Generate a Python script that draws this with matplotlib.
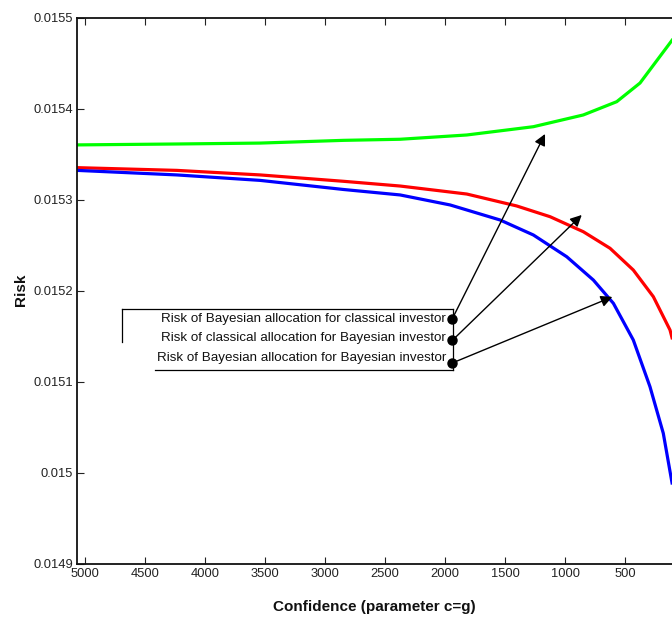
import matplotlib.pyplot as plt
from matplotlib.lines import Line2D

plt.rcParams['font.family'] = ['Liberation Sans', 'DejaVu Sans']

# confidence parameter c=g (axis runs from high to low) and risk of each allocation
conf_green = [5069, 4236, 3542, 2847, 2375, 1819, 1264, 848, 569, 375, 250, 108]
risk_bayes_for_classical = [0.015360, 0.015361, 0.015362, 0.015365, 0.0153662, 0.0153709,
                            0.015380, 0.0153929, 0.0154075, 0.015428, 0.015450, 0.015475]

conf_red = [5069, 4236, 3542, 2847, 2375, 1819, 1403, 1125, 848, 625, 431, 264, 125, 108]
risk_classical_for_bayes = [0.015335, 0.015332, 0.015327, 0.015320, 0.0153148, 0.015306, 0.0152929,
                            0.0152811, 0.0152646, 0.0152464, 0.0152225, 0.0151932, 0.0151566, 0.015148]

conf_blue = [5069, 4236, 3542, 2847, 2375, 1958, 1542, 1264, 986, 764, 597, 431, 292, 181, 108]
risk_bayes_for_bayes = [0.015332, 0.015327, 0.015321, 0.015311, 0.015305, 0.015294, 0.0152775, 0.015261,
                        0.0152371, 0.0152115, 0.0151859, 0.0151456, 0.0150943, 0.0150431, 0.0149885]

labels = ['Risk of Bayesian allocation for classical investor',
          'Risk of classical allocation for Bayesian investor',
          'Risk of Bayesian allocation for Bayesian investor']

# callout anchors (x, y) and arrow targets on each curve
dot_x = 1939
dot_y = [0.0151692, 0.0151453, 0.0151204]
tip_x = [1167, 861, 606]
tip_y = [0.015372, 0.015283, 0.015193]

xticks = [5000, 4500, 4000, 3500, 3000, 2500, 2000, 1500, 1000, 500]
yticks = [0.0149, 0.0150, 0.0151, 0.0152, 0.0153, 0.0154, 0.0155]
ytick_labels = ['0.0149', '0.015', '0.0151', '0.0152', '0.0153', '0.0154', '0.0155']

W, H = 672, 622
fig = plt.figure(figsize=(W / 100, H / 100), dpi=100)
ax = fig.add_axes([77 / W, 1 - 563.5 / H, (685 - 77) / W, (563.5 - 17.5) / H])

ax.plot(conf_green, risk_bayes_for_classical, color='#00ff00', lw=2.3)
ax.plot(conf_red, risk_classical_for_bayes, color='#ff0000', lw=2.3)
ax.plot(conf_blue, risk_bayes_for_bayes, color='#0000ff', lw=2.3)

ax.set_xlim(5069, 0)
ax.set_ylim(0.0149, 0.0155)
ax.set_xticks(xticks)
ax.set_xticklabels([str(t) for t in xticks])
ax.set_yticks(yticks)
ax.set_yticklabels(ytick_labels)
ax.tick_params(direction='in', length=5, width=0.8, labelsize=9.3, colors='#222222',
               top=True, right=True, pad=3)
for side in ax.spines.values():
    side.set_linewidth(1.3)
    side.set_color('#111111')

fig.text(374 / W, 1 - 607 / H, 'Confidence (parameter c=g)', ha='center', va='center',
         fontsize=11, fontweight='bold', color='#111111')
fig.text(21 / W, 1 - 290 / H, 'Risk', ha='center', va='center', rotation=90,
         fontsize=11, fontweight='bold', color='#111111')

# callout labels with their dots and arrows
text_y = [319, 338.5, 357.5]
for lab, ty in zip(labels, text_y):
    fig.text(446 / W, 1 - ty / H, lab, ha='right', va='center', fontsize=9.6, color='#111111')

for y0, tx, tyy in zip(dot_y, tip_x, tip_y):
    ax.annotate('', xy=(tx, tyy), xytext=(dot_x, y0),
                arrowprops=dict(arrowstyle='-|>', color='black', lw=1.0,
                                mutation_scale=17, shrinkA=0, shrinkB=0))
    ax.plot(dot_x, y0, 'o', color='black', ms=6.5, zorder=5)

# partial frame around the labels
frame = [([122, 453], [309, 309]), ([122, 122], [309, 342]),
         ([155, 453], [370, 370]), ([453, 453], [309, 370])]
for xs, ys in frame:
    fig.add_artist(Line2D([x / W for x in xs], [1 - y / H for y in ys],
                          color='black', lw=0.9))

fig.savefig('out.png', dpi=100)
